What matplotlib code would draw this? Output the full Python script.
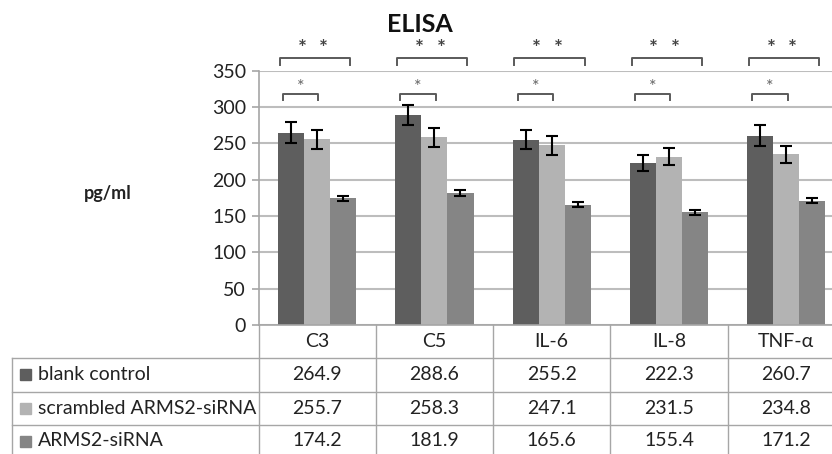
import matplotlib
matplotlib.use("Agg")
import matplotlib.pyplot as plt
import matplotlib.transforms as mtransforms
import numpy as np

plt.rcParams['font.family'] = ['Lato', 'DejaVu Sans']

categories = ['C3', 'C5', 'IL-6', 'IL-8', 'TNF-α']
series = ['blank control', 'scrambled ARMS2-siRNA', 'ARMS2-siRNA']
blank = [264.9, 288.6, 255.2, 222.3, 260.7]
scrambled = [255.7, 258.3, 247.1, 231.5, 234.8]
arms2 = [174.2, 181.9, 165.6, 155.4, 171.2]
blank_err = [14, 14, 13.5, 11, 14]
scrambled_err = [13, 13, 13, 11.5, 12]
arms2_err = [4, 4, 3.5, 3.5, 3.5]
yticks = [0, 50, 100, 150, 200, 250, 300, 350]

colors = ['#5e5e5e', '#b3b3b3', '#858585']
txt = '#222222'
grid_c = '#bdbdbd'
line_c = '#a6a6a6'

W, H = 832, 454
fig = plt.figure(figsize=(W / 100, H / 100), dpi=100)

def fx(p):
    return p / W

def fy(p):
    return 1 - p / H

ax_left, ax_right, ax_top, ax_bot = 258.5, 845, 70.7, 325
ax = fig.add_axes([fx(ax_left), fy(ax_bot), fx(ax_right - ax_left), (ax_bot - ax_top) / H])

x = np.arange(len(categories))
bw = 0.222
allvals = [blank, scrambled, arms2]
allerr = [blank_err, scrambled_err, arms2_err]
for i in range(3):
    ax.bar(x + (i - 1) * bw, allvals[i], bw, color=colors[i], zorder=2)
    ax.errorbar(x + (i - 1) * bw, allvals[i], yerr=allerr[i], fmt='none',
                ecolor='black', elinewidth=1.5, capsize=4, capthick=1.5, zorder=3)

ax.set_xlim(-0.5, len(categories) - 0.5)
ax.set_ylim(0, 350)
ax.set_yticks(yticks)
ax.set_xticks([])
ax.yaxis.grid(True, color=grid_c, linewidth=1.5, zorder=0)
ax.set_axisbelow(True)
for s in ['top', 'right']:
    ax.spines[s].set_visible(False)
ax.spines['left'].set_color(line_c)
ax.spines['bottom'].set_color(line_c)
ax.spines['left'].set_linewidth(1.2)
ax.spines['bottom'].set_linewidth(1.2)
ax.tick_params(axis='y', length=5, width=1.2, color=line_c, labelsize=14, labelcolor=txt, pad=4)

# significance brackets
for xi in x:
    # big bracket (* *)
    x0, x1, yb = xi - 0.32, xi + 0.28, 367
    ax.plot([x0, x0, x1, x1], [yb - 9, yb, yb, yb - 9], color='#5a5a5a', lw=1.4, clip_on=False)
    ax.text(xi - 0.13, 380, '*', ha='center', va='center', fontsize=15, fontweight='bold',
            color='#444444', clip_on=False)
    ax.text(xi + 0.055, 380, '*', ha='center', va='center', fontsize=15, fontweight='bold',
            color='#444444', clip_on=False)
    # small bracket (*)
    x0, x1, yb = xi - 0.29, xi + 0.01, 318
    ax.plot([x0, x0, x1, x1], [yb - 9, yb, yb, yb - 9], color='#5a5a5a', lw=1.4, clip_on=False)
    ax.text(xi - 0.14, 328, '*', ha='center', va='center', fontsize=13, color='#666666', clip_on=False)

fig.text(fx(420), fy(25), 'ELISA', ha='center', va='center', fontsize=18, fontweight='bold', color='#111111')
fig.text(fx(108), fy(194), 'pg/ml', ha='center', va='center', fontsize=13, fontweight='bold', color=txt)

# data table below the chart
blend = mtransforms.blended_transform_factory(ax.transData, fig.transFigure)
rows_y = [325, 358, 391.5, 424.5, 457.5]
lw_t = 1.0
for b in np.arange(len(categories) + 1) - 0.5:
    fig.add_artist(plt.Line2D([b, b], [fy(rows_y[0]), fy(rows_y[-1])], transform=blend, color=line_c, lw=lw_t))
for r in rows_y[1:]:
    fig.add_artist(plt.Line2D([fx(12), 1], [fy(r), fy(r)], color=line_c, lw=lw_t))
fig.add_artist(plt.Line2D([fx(12), fx(12)], [fy(rows_y[1]), fy(rows_y[-1])], color=line_c, lw=lw_t))

for j, c in enumerate(categories):
    fig.text(x[j], fy((rows_y[0] + rows_y[1]) / 2), c, transform=blend, ha='center', va='center',
             fontsize=14, color=txt)
for i in range(3):
    yc = fy((rows_y[i + 1] + rows_y[i + 2]) / 2)
    fig.add_artist(plt.Rectangle((fx(20), yc - 5.5 / H), 11 / W, 11 / H, color=colors[i]))
    fig.text(fx(38), yc, series[i], ha='left', va='center', fontsize=14, color=txt)
    for j in range(len(categories)):
        fig.text(x[j], yc, '%.1f' % allvals[i][j], transform=blend, ha='center', va='center',
                 fontsize=14, color=txt)

fig.savefig('out.png', dpi=100)
